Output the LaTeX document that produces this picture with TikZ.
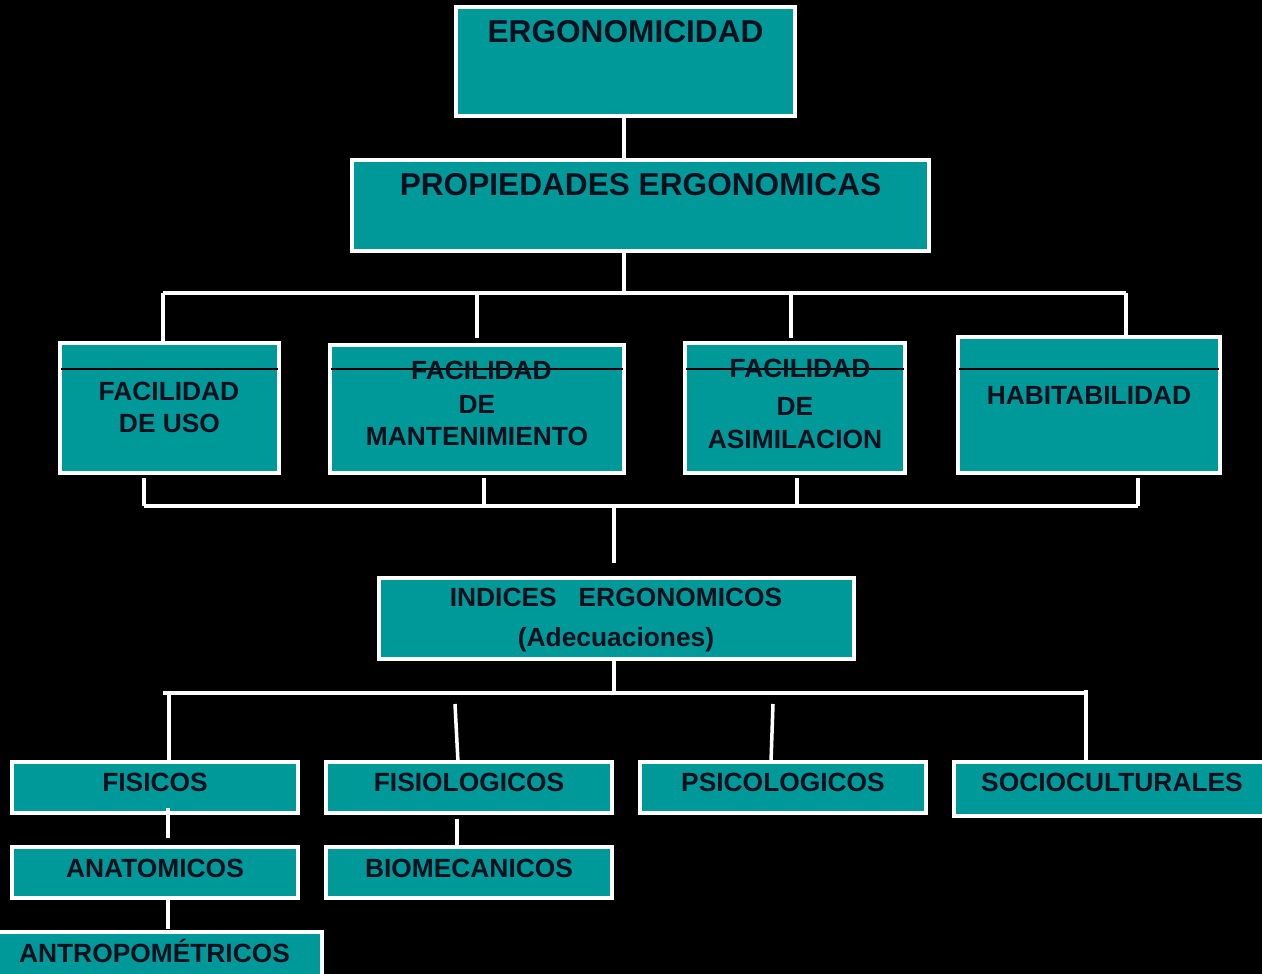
\documentclass[tikz,border=0pt]{standalone}
\usepackage{fontspec}
\setmainfont{Liberation Sans}
\usetikzlibrary{fit}
\definecolor{teal0}{RGB}{0,153,153}
\definecolor{ink}{RGB}{8,16,30}
\tikzset{
  box/.style={draw=white, line width=1.8pt, fill=teal0, inner sep=0pt, outer sep=0pt},
  conn/.style={draw=white, line width=2pt},
  sepline/.style={draw=black, line width=0.6pt},
  lbl/.style={text=ink, font=\fontsize{15}{18}\selectfont\bfseries, anchor=base, inner sep=0pt},
  biglbl/.style={lbl, font=\fontsize{18}{21}\selectfont\bfseries}
}
\begin{document}
\begin{tikzpicture}[x=0.02cm,y=-0.02cm]
\useasboundingbox (0,0) rectangle (1262,974);
\fill[black] (0,0) rectangle (1262,974);

% boxes
\node[box, fit={(456,7) (795,116)}] (erg) {};
\node[box, fit={(352,160) (929,251)}] (prop) {};
\node[box, fit={(60,343) (279,473)}] (fu) {};
\node[box, fit={(330,345) (624,473)}] (fm) {};
\node[box, fit={(685,343) (905,473)}] (fa) {};
\node[box, fit={(958,337) (1220,473)}] (hab) {};
\node[box, fit={(379,578) (854,659)}] (ind) {};
\node[box, fit={(12,762) (298,813)}] (fis) {};
\node[box, fit={(326,762) (612,813)}] (fisio) {};
\node[box, fit={(640,762) (926,813)}] (psi) {};
\node[box, fit={(954,762) (1275,816)}] (soc) {};
\node[box, fit={(12,847) (298,898)}] (ana) {};
\node[box, fit={(326,847) (612,898)}] (bio) {};
\node[box, fit={(-8,932) (322,985)}] (antro) {};

% thin separator lines inside upper boxes
\draw[sepline] (61,369) -- (278,369);
\draw[sepline] (331,369) -- (623,369);
\draw[sepline] (686,369) -- (904,369);
\draw[sepline] (959,369) -- (1219,369);

% labels
\node[biglbl] (terg) at (625.5,42) {ERGONOMICIDAD};
\node[biglbl] (tprop) at (640.5,195) {PROPIEDADES ERGONOMICAS};
\node[lbl] (tfu1) at (169,400) {FACILIDAD};
\node[lbl] (tfu2) at (169.5,432) {DE USO};
\node[lbl] (tfm1) at (481.5,379) {FACILIDAD};
\node[lbl] (tfm2) at (477,413) {DE};
\node[lbl] (tfm3) at (477,445) {MANTENIMIENTO};
\node[lbl] (tfa1) at (800,377) {FACILIDAD};
\node[lbl] (tfa2) at (795,415) {DE};
\node[lbl] (tfa3) at (795,448) {ASIMILACION};
\node[lbl] (thab) at (1089,404) {HABITABILIDAD};
\node[lbl] (tind1) at (616,606) {INDICES\ \ \ ERGONOMICOS};
\node[lbl] (tind2) at (616,646) {(Adecuaciones)};
\node[lbl] (tfis) at (155,791) {FISICOS};
\node[lbl] (tfisio) at (469,791) {FISIOLOGICOS};
\node[lbl] (tpsi) at (783,791) {PSICOLOGICOS};
\node[lbl] (tsoc) at (1112,791) {SOCIOCULTURALES};
\node[lbl] (tana) at (155,877) {ANATOMICOS};
\node[lbl] (tbio) at (469,877) {BIOMECANICOS};
\node[lbl] (tantro) at (154.5,962) {ANTROPOMÉTRICOS};

% connector coordinates
\coordinate (b1) at (624,293);
\coordinate (b1L) at (163,293);
\coordinate (b1R) at (1126,293);
\coordinate (d2t) at (477,293);
\coordinate (d2b) at (477,338);
\coordinate (d3t) at (791,293);
\coordinate (d3b) at (791,338);

\coordinate (u1) at (144,478);
\coordinate (u2) at (484,478);
\coordinate (u3) at (797,478);
\coordinate (u4) at (1138,478);
\coordinate (b2L) at (144,506);
\coordinate (b2R) at (1138,506);
\coordinate (b2) at (614,506);
\coordinate (b2d) at (614,563);

\coordinate (b3) at (614,693);
\coordinate (b3L) at (163,693);
\coordinate (b3R) at (1086,693);
\coordinate (e1) at (169,693);
\coordinate (e2t) at (455,704);
\coordinate (e2b) at (458,762);
\coordinate (e3t) at (773,704);
\coordinate (e3b) at (771,762);
\coordinate (e4t) at (1086,690);

\coordinate (s1t) at (168,808);
\coordinate (s1b) at (168,838);
\coordinate (s2t) at (457,819);
\coordinate (s3b) at (168,929);

% connectors
\draw[conn] (erg.south -| b1) -- (prop.north -| b1);
\draw[conn] (prop.south -| b1) -- (b1);
\draw[conn] (b1L) -- (b1R);
\draw[conn] (b1L) -- (b1L |- fu.north);
\draw[conn] (d2t) -- (d2b);
\draw[conn] (d3t) -- (d3b);
\draw[conn] (b1R) -- (b1R |- hab.north);

\draw[conn] (u1) -- (b2L);
\draw[conn] (u2) -- (u2 |- b2);
\draw[conn] (u3) -- (u3 |- b2);
\draw[conn] (u4) -- (b2R);
\draw[conn] (b2L) -- (b2R);
\draw[conn] (b2) -- (b2d);

\draw[conn] (ind.south -| b3) -- (b3);
\draw[conn] (b3L) -- (b3R);
\draw[conn] (e1) -- (e1 |- fis.north);
\draw[conn] (e2t) -- (e2b);
\draw[conn] (e3t) -- (e3b);
\draw[conn] (e4t) -- (e4t |- soc.north);

\draw[conn] (s1t) -- (s1b);
\draw[conn] (s2t) -- (s2t |- bio.north);
\draw[conn] (ana.south -| s3b) -- (s3b);
\end{tikzpicture}
\end{document}
